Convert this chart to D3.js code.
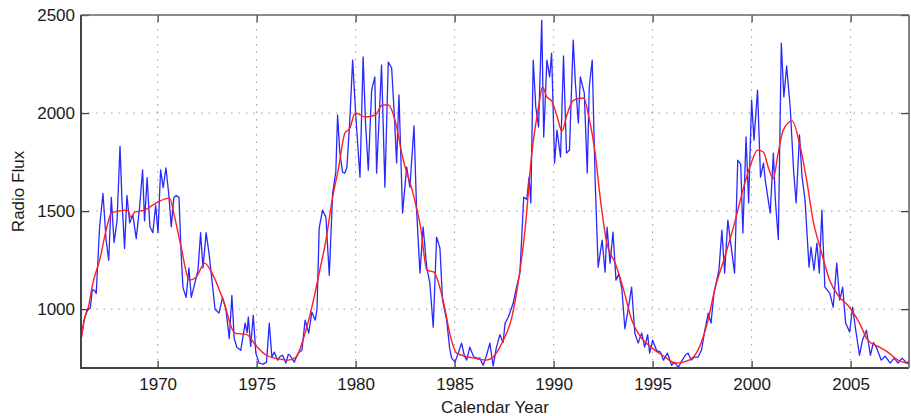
<!DOCTYPE html>
<html lang="en">
<head>
  <meta charset="UTF-8">
  <script src="https://d3js.org/d3.v7.min.js"></script>
  <style>
    body { margin: 0; background: #fff; }
    svg { display: block; }
    text { font-family: "Liberation Sans", Arial, sans-serif; fill: #1a1a1a; }
  </style>
</head>
<body>
  <script>
    const width = 911;
    const height = 416;
    const margin = { top: 15, right: 2, bottom: 48, left: 81 };

    // monthly radio flux (blue) as [year, flux]
    const monthlyFlux = [
      [1966.11, 830], [1966.3, 950], [1966.45, 1000], [1966.6, 1005], [1966.7, 1100], [1966.82, 1095],
      [1966.9, 1080], [1967.07, 1420], [1967.24, 1590], [1967.4, 1350], [1967.53, 1250], [1967.66, 1570],
      [1967.8, 1340], [1967.95, 1450], [1968.1, 1830], [1968.2, 1556], [1968.33, 1310], [1968.45, 1580],
      [1968.59, 1440], [1968.75, 1480], [1968.92, 1360], [1969.09, 1520], [1969.24, 1710], [1969.34, 1450],
      [1969.47, 1670], [1969.61, 1420], [1969.76, 1390], [1969.9, 1530], [1970.02, 1390], [1970.15, 1710],
      [1970.28, 1620], [1970.42, 1720], [1970.56, 1590], [1970.69, 1420], [1970.82, 1570], [1970.94, 1580],
      [1971.08, 1570], [1971.18, 1300], [1971.28, 1110], [1971.44, 1060], [1971.58, 1210], [1971.7, 1060],
      [1971.85, 1120], [1972.04, 1200], [1972.17, 1390], [1972.29, 1210], [1972.45, 1390], [1972.59, 1290],
      [1972.71, 1180], [1972.9, 1000], [1973.1, 980], [1973.28, 1060], [1973.45, 1000], [1973.62, 850],
      [1973.75, 1070], [1973.87, 850], [1974.0, 806], [1974.2, 790], [1974.42, 929], [1974.52, 880],
      [1974.58, 960], [1974.7, 810], [1974.83, 969], [1974.96, 776], [1975.13, 725], [1975.33, 720],
      [1975.5, 730], [1975.64, 929], [1975.77, 755], [1975.89, 781], [1976.06, 740], [1976.2, 760],
      [1976.31, 765], [1976.48, 725], [1976.6, 770], [1976.68, 765], [1976.9, 730], [1977.1, 776],
      [1977.29, 791], [1977.45, 944], [1977.63, 878], [1977.79, 985], [1977.96, 944], [1978.05, 1000],
      [1978.16, 1413], [1978.33, 1505], [1978.5, 1469], [1978.67, 1173], [1978.84, 1592], [1979.0, 1700],
      [1979.09, 1990], [1979.2, 1800], [1979.34, 1699], [1979.46, 1694], [1979.56, 1724], [1979.7, 1950],
      [1979.85, 2270], [1980.0, 2000], [1980.22, 1673], [1980.38, 2286], [1980.5, 1950], [1980.64, 1709],
      [1980.81, 2117], [1980.97, 2184], [1981.06, 1694], [1981.31, 2245], [1981.48, 1622], [1981.65, 2260],
      [1981.82, 2230], [1981.95, 2000], [1982.07, 1745], [1982.19, 2092], [1982.37, 1490], [1982.58, 1724],
      [1982.74, 1622], [1982.95, 1935], [1983.08, 1505], [1983.25, 1184], [1983.41, 1420], [1983.59, 1214],
      [1983.75, 1133], [1983.92, 908], [1984.09, 1367], [1984.26, 1311], [1984.39, 1046], [1984.6, 944],
      [1984.75, 800], [1984.85, 750], [1985.02, 730], [1985.2, 780], [1985.35, 827], [1985.5, 760],
      [1985.61, 740], [1985.77, 806], [1985.95, 760], [1986.11, 750], [1986.28, 750], [1986.44, 714],
      [1986.6, 760], [1986.78, 827], [1986.95, 710], [1987.1, 800], [1987.29, 870], [1987.45, 830],
      [1987.55, 929], [1987.71, 959], [1987.85, 1000], [1987.96, 1031], [1988.1, 1100], [1988.3, 1184],
      [1988.49, 1571], [1988.65, 1560], [1988.76, 1673], [1988.85, 1541], [1988.97, 2270], [1989.1, 2031],
      [1989.24, 1929], [1989.4, 2474], [1989.5, 1878], [1989.66, 2270], [1989.8, 2184], [1989.9, 2306],
      [1990.05, 1745], [1990.17, 1913], [1990.35, 1776], [1990.5, 2291], [1990.65, 1796], [1990.8, 1810],
      [1990.99, 2372], [1991.1, 2153], [1991.25, 1949], [1991.35, 2184], [1991.55, 2102], [1991.7, 1694],
      [1991.8, 2133], [1991.95, 2270], [1992.1, 1650], [1992.25, 1214], [1992.45, 1352], [1992.6, 1189],
      [1992.7, 1418], [1992.85, 1235], [1993.0, 1393], [1993.15, 1148], [1993.3, 1180], [1993.45, 1100],
      [1993.6, 900], [1993.75, 990], [1993.94, 1112], [1994.1, 880], [1994.27, 827], [1994.45, 878],
      [1994.6, 806], [1994.75, 870], [1994.85, 776], [1995.0, 842], [1995.2, 790], [1995.4, 781],
      [1995.55, 740], [1995.75, 776], [1995.96, 714], [1996.1, 730], [1996.3, 704], [1996.5, 740],
      [1996.65, 765], [1996.79, 776], [1996.95, 740], [1997.1, 755], [1997.29, 755], [1997.47, 791],
      [1997.64, 893], [1997.81, 980], [1997.95, 929], [1998.1, 1082], [1998.35, 1199], [1998.5, 1403],
      [1998.64, 1184], [1998.8, 1454], [1998.97, 1316], [1999.14, 1184], [1999.3, 1760], [1999.45, 1740],
      [1999.56, 1388], [1999.72, 1878], [1999.85, 1541], [2000.0, 2066], [2000.12, 1862], [2000.3, 2117],
      [2000.45, 1673], [2000.6, 1745], [2000.7, 1650], [2000.94, 1490], [2001.1, 1796], [2001.2, 1556],
      [2001.35, 1355], [2001.5, 2357], [2001.63, 2082], [2001.77, 2240], [2001.95, 2031], [2002.12, 1709],
      [2002.25, 1541], [2002.42, 1888], [2002.55, 1673], [2002.7, 1556], [2002.9, 1214], [2003.0, 1316],
      [2003.15, 1199], [2003.3, 1337], [2003.42, 1184], [2003.55, 1505], [2003.7, 1112], [2003.95, 1082],
      [2004.12, 1010], [2004.3, 1235], [2004.45, 1046], [2004.6, 1112], [2004.75, 929], [2004.95, 883],
      [2005.1, 1010], [2005.25, 900], [2005.45, 765], [2005.6, 842], [2005.8, 893], [2006.0, 765],
      [2006.15, 830], [2006.3, 806], [2006.55, 740], [2006.75, 760], [2007.0, 725], [2007.2, 750],
      [2007.4, 725], [2007.6, 750], [2007.85, 725], [2008.0, 740]
    ];

    // smoothed flux (red) as [year, flux]
    const smoothedFlux = [
      [1966.11, 827], [1966.3, 950], [1966.48, 1000], [1966.73, 1133], [1967.07, 1250], [1967.4, 1403],
      [1967.66, 1490], [1968.0, 1500], [1968.5, 1505], [1968.64, 1469], [1968.84, 1495], [1969.34, 1505],
      [1970.0, 1546], [1970.6, 1566], [1970.86, 1469], [1971.19, 1316], [1971.6, 1148], [1971.95, 1163],
      [1972.37, 1235], [1972.75, 1184], [1973.31, 1046], [1973.9, 878], [1974.5, 870], [1975.0, 810],
      [1975.5, 765], [1976.18, 745], [1976.6, 740], [1976.98, 755], [1977.45, 878], [1977.79, 1010],
      [1978.16, 1184], [1978.5, 1352], [1978.84, 1571], [1979.12, 1709], [1979.46, 1898], [1979.71, 1923],
      [1979.98, 2000], [1980.5, 1980], [1981.0, 1990], [1981.35, 2041], [1981.65, 2041], [1982.0, 1960],
      [1982.37, 1776], [1982.95, 1571], [1983.28, 1418], [1983.6, 1199], [1983.95, 1189], [1984.45, 1031],
      [1984.8, 857], [1985.1, 776], [1985.77, 755], [1986.6, 740], [1986.88, 750], [1987.39, 827],
      [1987.89, 959], [1988.23, 1148], [1988.57, 1418], [1988.9, 1796], [1989.24, 2031], [1989.44, 2133],
      [1989.66, 2082], [1989.91, 2061], [1990.17, 1985], [1990.42, 1908], [1990.67, 1990], [1991.01, 2066],
      [1991.52, 2077], [1991.77, 1985], [1992.1, 1796], [1992.35, 1571], [1992.69, 1337], [1993.11, 1235],
      [1993.54, 1097], [1993.95, 944], [1994.4, 857], [1995.0, 800], [1995.5, 765], [1996.2, 725],
      [1996.85, 740], [1997.29, 791], [1997.8, 944], [1998.13, 1097], [1998.64, 1265], [1999.14, 1439],
      [1999.56, 1607], [1999.98, 1745], [2000.3, 1811], [2000.6, 1800], [2000.84, 1724], [2001.09, 1665],
      [2001.34, 1796], [2001.6, 1913], [2002.05, 1960], [2002.42, 1845], [2002.78, 1658], [2003.11, 1450],
      [2003.5, 1300], [2003.94, 1148], [2004.44, 1061], [2004.86, 1020], [2005.45, 929], [2005.87, 842],
      [2006.46, 806], [2006.88, 781], [2007.39, 740], [2007.81, 725], [2008.0, 720]
    ];

    const xTicks = [1970, 1975, 1980, 1985, 1990, 1995, 2000, 2005];
    const yTicks = [1000, 1500, 2000, 2500];

    const svg = d3.select("body")
      .append("svg")
      .attr("width", width)
      .attr("height", height);

    const x = d3.scaleLinear()
      .domain([1966.13, 2007.95])
      .range([margin.left, width - margin.right]);

    const y = d3.scaleLinear()
      .domain([700, 2500])
      .range([height - margin.bottom, margin.top]);

    const x0 = margin.left, x1 = width - margin.right;
    const y0 = height - margin.bottom, y1 = margin.top;

    // dotted grid
    const grid = svg.append("g")
      .attr("stroke", "#9a9a9a")
      .attr("stroke-width", 1)
      .attr("stroke-dasharray", "1.5,6");
    grid.selectAll("line.vx")
      .data(xTicks)
      .join("line")
      .attr("x1", d => x(d)).attr("x2", d => x(d))
      .attr("y1", y0).attr("y2", y1);
    grid.selectAll("line.hy")
      .data(yTicks.filter(d => d < 2500))
      .join("line")
      .attr("class", "hy")
      .attr("x1", x0).attr("x2", x1)
      .attr("y1", d => y(d)).attr("y2", d => y(d));

    svg.append("clipPath").attr("id", "plot")
      .append("rect")
      .attr("x", x0).attr("y", y1)
      .attr("width", x1 - x0).attr("height", y0 - y1);

    const line = d3.line()
      .x(d => x(d[0]))
      .y(d => y(d[1]));

    svg.append("path")
      .datum(monthlyFlux)
      .attr("clip-path", "url(#plot)")
      .attr("fill", "none")
      .attr("stroke", "#2828ff")
      .attr("stroke-width", 1.3)
      .attr("stroke-linejoin", "round")
      .attr("d", line);

    svg.append("path")
      .datum(smoothedFlux)
      .attr("clip-path", "url(#plot)")
      .attr("fill", "none")
      .attr("stroke", "#ff1f1f")
      .attr("stroke-width", 1.4)
      .attr("d", line.curve(d3.curveMonotoneX));

    // axes (ticks point inward, MATLAB style)
    const fmt = d3.format("d");
    const xAxis = svg.append("g")
      .attr("transform", `translate(0,${y0})`)
      .call(d3.axisBottom(x).tickValues(xTicks).tickFormat(fmt).tickSizeInner(-7).tickSizeOuter(0).tickPadding(10));
    const yAxis = svg.append("g")
      .attr("transform", `translate(${x0},0)`)
      .call(d3.axisLeft(y).tickValues(yTicks).tickFormat(fmt).tickSizeInner(-8).tickSizeOuter(0).tickPadding(6));
    svg.append("g")
      .attr("transform", `translate(0,${y1})`)
      .call(d3.axisTop(x).tickValues(xTicks).tickFormat("").tickSizeInner(-7).tickSizeOuter(0));
    svg.append("g")
      .attr("transform", `translate(${x1},0)`)
      .call(d3.axisRight(y).tickValues(yTicks).tickFormat("").tickSizeInner(-8).tickSizeOuter(0));

    svg.selectAll(".domain").remove();
    svg.selectAll(".tick line").attr("stroke", "#444").attr("stroke-width", 1.3);
    svg.selectAll(".tick text")
      .attr("font-size", 17)
      .attr("font-family", "'Liberation Sans', Arial, sans-serif")
      .attr("fill", "#1a1a1a");

    // box
    const box = svg.append("g").attr("fill", "none");
    box.append("line").attr("x1", x0).attr("x2", x0).attr("y1", y1).attr("y2", y0 + 1)
      .attr("stroke", "#444").attr("stroke-width", 2);
    box.append("line").attr("x1", x0 - 1).attr("x2", x1).attr("y1", y0).attr("y2", y0)
      .attr("stroke", "#444").attr("stroke-width", 2);
    box.append("line").attr("x1", x0).attr("x2", x1).attr("y1", y1).attr("y2", y1)
      .attr("stroke", "#666").attr("stroke-width", 1.6);
    box.append("line").attr("x1", x1).attr("x2", x1).attr("y1", y1).attr("y2", y0)
      .attr("stroke", "#666").attr("stroke-width", 1.6);

    // axis titles
    svg.append("text")
      .attr("x", (x0 + x1) / 2)
      .attr("y", 413)
      .attr("text-anchor", "middle")
      .attr("font-size", 17)
      .text("Calendar Year");

    svg.append("text")
      .attr("transform", `translate(24,${(y0 + y1) / 2}) rotate(-90)`)
      .attr("text-anchor", "middle")
      .attr("font-size", 17)
      .text("Radio Flux");
  </script>
</body>
</html>
